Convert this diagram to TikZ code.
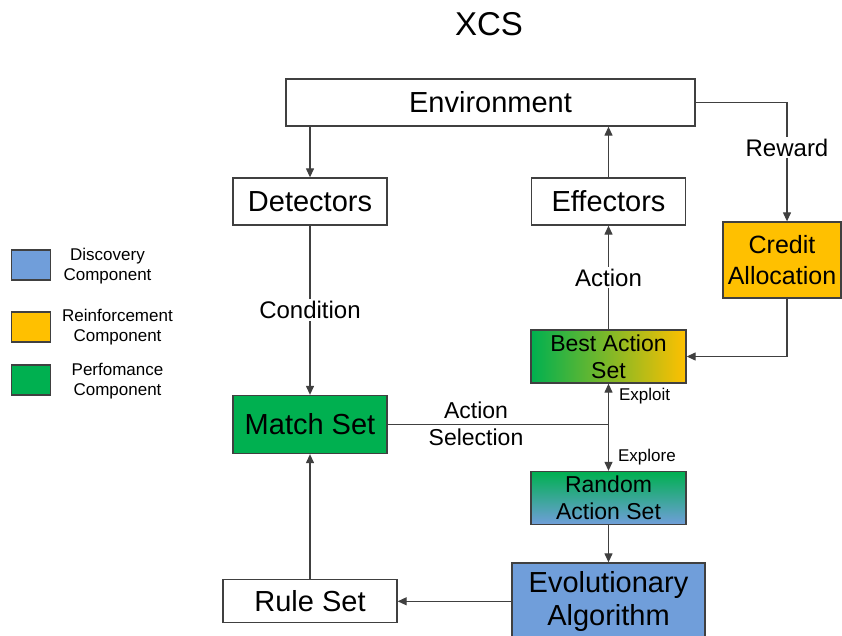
\documentclass[tikz,border=0pt]{standalone}
\usepackage{fontspec}
\setmainfont{Liberation Sans}
\usetikzlibrary{arrows.meta}
\definecolor{discblue}{RGB}{112,158,218}
\definecolor{reinforange}{RGB}{255,192,0}
\definecolor{perfgreen}{RGB}{0,176,80}
\definecolor{linegray}{RGB}{64,64,64}
\newcommand{\bigfont}{\fontsize{29}{33}\selectfont}
\newcommand{\midfont}{\fontsize{24}{28}\selectfont}
\newcommand{\smallfont}{\fontsize{17}{20}\selectfont}

\begin{document}
\begin{tikzpicture}[x=1pt, y=-1pt,
	box/.style={draw=linegray, line width=1.3pt, inner sep=0pt, align=center, font=\bigfont},
	arr/.style={draw=linegray, line width=1.2pt, -{Triangle[length=9pt, width=8pt]}},
	lbl/.style={fill=white, inner sep=2pt, font=\midfont},
	note/.style={inner sep=0pt, align=center, font=\smallfont},
	swatch/.style={draw=linegray, line width=1.3pt, minimum width=39pt, minimum height=30pt}]
	\useasboundingbox (0, 0) rectangle (842, 636);
	\node (title) at (489, 24) {\fontsize{33}{36}\selectfont XCS};
	% main boxes
	\node[box, minimum width=409pt, minimum height=47pt] (env) at (490.5, 102.5) {Environment};
	\node[box, minimum width=154pt, minimum height=47pt] (det) at (310, 201.5) {Detectors};
	\node[box, minimum width=154pt, minimum height=47pt] (eff) at (608.5, 201.5) {Effectors};
	\node[box, fill=reinforange, minimum width=118pt, minimum height=76pt, font=\fontsize{25}{31}\selectfont] (credit) at (782, 260) {Credit\\Allocation};
	\node[box, left color=perfgreen, right color=reinforange, minimum width=155pt, minimum height=53pt, font=\fontsize{23}{27}\selectfont] (best) at (608.5, 356.5) {Best Action\\Set};
	\node[box, fill=perfgreen, minimum width=154pt, minimum height=58pt] (match) at (310, 424.5) {Match Set};
	\node[box, top color=perfgreen, bottom color=discblue, minimum width=155pt, minimum height=53pt, font=\fontsize{23}{27}\selectfont] (rand) at (608.5, 498) {Random\\Action Set};
	\node[box, fill=discblue, minimum width=193pt, minimum height=76pt] (evo) at (608.5, 601) {Evolutionary\\Algorithm};
	\node[box, minimum width=174pt, minimum height=43pt] (rule) at (310, 601.3) {Rule Set};
	\coordinate (sel) at (best |- match.east);
	% connectors
	\draw[arr] (det.north |- env.south) -- (det.north);
	\draw[arr] (eff.north) -- (eff.north |- env.south);
	\draw[arr] (env.east) -| ([xshift=5pt]credit.north) node[lbl, pos=0.69] (reward) {Reward};
	\draw[arr] ([xshift=5pt]credit.south) |- (best.east);
	\draw[arr] (det) -- (match) node[lbl, midway] (cond) {Condition};
	\draw[arr] (best) -- (eff) node[lbl, midway] (act) {Action};
	\draw[draw=linegray, line width=1.2pt] (match.east) -- (sel);
	\node[font=\fontsize{23}{27}\selectfont, inner sep=0pt] (selA) at (476, 410) {Action};
	\node[font=\fontsize{23}{27}\selectfont, inner sep=0pt] (selB) at (476, 437.5) {Selection};
	\draw[arr] (sel) -- (best.south) node[note, anchor=west, pos=0.7, xshift=10pt] (exploit) {Exploit};
	\draw[arr] (sel) -- (rand.north) node[note, anchor=west, pos=0.7, xshift=9pt] (explore) {Explore};
	\draw[arr] (rand) -- (evo);
	\draw[arr] (evo.west |- rule) -- (rule.east);
	\draw[arr] (rule) -- (match);
	% legend
	\node[swatch, fill=discblue] (lgdisc) at (31, 265) {};
	\node[swatch, fill=reinforange] (lgrein) at (31, 327) {};
	\node[swatch, fill=perfgreen] (lgperf) at (31, 380) {};
	\node[note] (txdisc) at (107.5, 266) {Discovery\\Component};
	\node[note] (txrein) at (117.5, 327.5) {Reinforcement\\Component};
	\node[note] (txperf) at (117.5, 381) {Perfomance\\Component};
\end{tikzpicture}
\end{document}
